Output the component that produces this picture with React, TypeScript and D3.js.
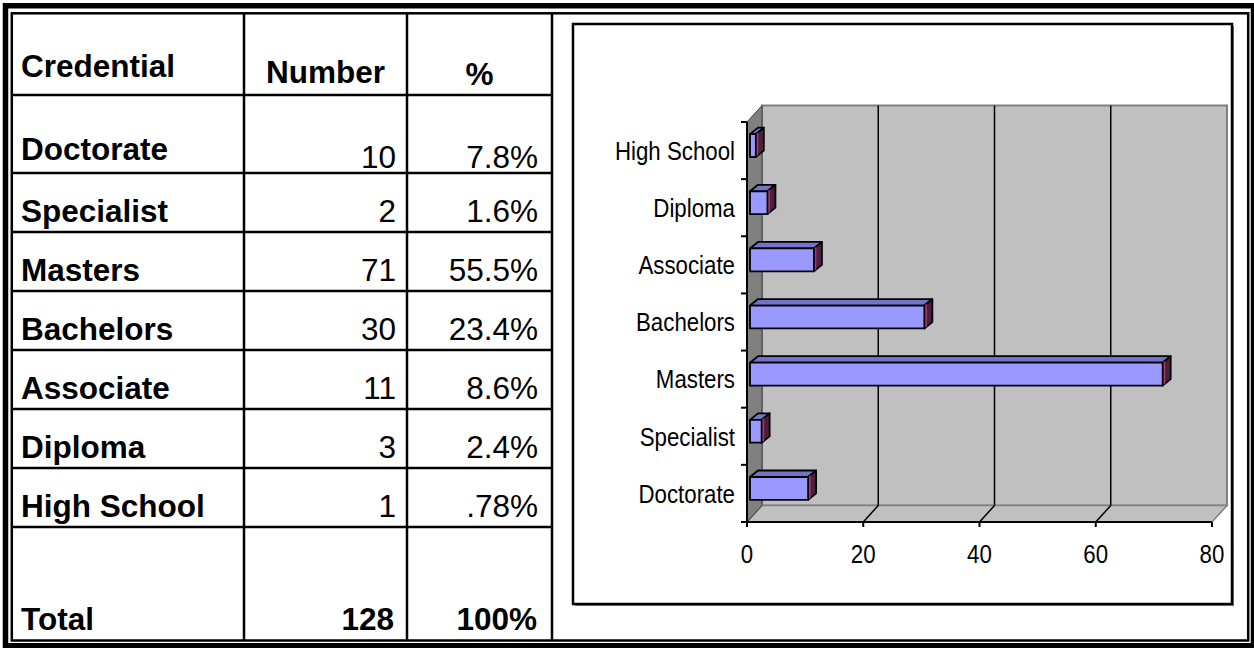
import React from 'react';
import * as d3 from 'd3';

const categories = ['Doctorate', 'Specialist', 'Masters', 'Bachelors', 'Associate', 'Diploma', 'High School'];
const counts = [10, 2, 71, 30, 11, 3, 1];
const percents = ['7.8%', '1.6%', '55.5%', '23.4%', '8.6%', '2.4%', '.78%'];
const headers = ['Credential', 'Number', '%'];
const totalLabel = 'Total';
const totalCount = '128';
const totalPct = '100%';
const xTicks = [0, 20, 40, 60, 80];

export default function App() {
  const W = 1254, H = 648;
  const tableFont = "'Liberation Sans', Arial, Helvetica, sans-serif";
  const chartFont = "'Liberation Sans Narrow', 'Arial Narrow', 'Liberation Sans', sans-serif";
  const fs = 31.5;
  const narrow = 0.84;

  // table layout
  const colX = [12, 244, 407, 552];
  const rowLines = [95, 173, 232, 291, 350, 409, 468, 527];
  const labelBase = [160, 222, 281, 340, 399, 458, 517];
  const numBase = [168, 222, 281, 340, 399, 458, 517];

  // chart geometry
  const front = d3.scaleLinear().domain([0, 80]).range([747, 1212]);
  const dep = { dx: 15, dy: -16.5 };
  const yTop = 122, yBot = 522;
  const band = d3.scaleBand<string>()
    .domain([...categories].reverse())
    .range([yTop, yBot])
    .paddingInner(0.6)
    .paddingOuter(0.3);
  const step = band.step();
  const barOff = { dx: 3, dy: -5 };
  const bd = { dx: 8, dy: -6.5 };

  const x0 = front(0), x80 = front(80);
  const leftWall = [[x0, yTop], [x0 + dep.dx, yTop + dep.dy], [x0 + dep.dx, yBot + dep.dy], [x0, yBot]];
  const floor = [[x0, yBot], [x0 + dep.dx, yBot + dep.dy], [x80 + dep.dx, yBot + dep.dy], [x80, yBot]];
  const pts = (p: number[][]) => p.map(q => q.join(',')).join(' ');

  const tickYs = d3.range(categories.length + 1).map(i => yTop + i * step);

  return (
    <svg width={W} height={H} style={{ position: 'absolute', left: 0, top: 0, background: '#fff' }}>
      {/* outer frames */}
      <rect x={5.5} y={5.75} width={1248} height={640} fill="none" stroke="#000" strokeWidth={5.5} />
      <rect x={11.8} y={13.3} width={1236.4} height={627.2} fill="none" stroke="#000" strokeWidth={2.5} />

      {/* table grid */}
      {colX.slice(1).map((x, i) => (
        <line key={'c' + i} x1={x} x2={x} y1={13.3} y2={640.5} stroke="#000" strokeWidth={2.5} />
      ))}
      {rowLines.map((y, i) => (
        <line key={'r' + i} x1={11.8} x2={552} y1={y} y2={y} stroke="#000" strokeWidth={2.5} />
      ))}

      {/* header */}
      <g fontFamily={tableFont} fontWeight="bold" fontSize={fs} fill="#000">
        <text x={21} y={77}>{headers[0]}</text>
        <text x={(colX[1] + colX[2]) / 2} y={83} textAnchor="middle">{headers[1]}</text>
        <text x={(colX[2] + colX[3]) / 2} y={85} textAnchor="middle">{headers[2]}</text>
      </g>

      {/* rows */}
      {categories.map((c, i) => (
        <g key={c} fontFamily={tableFont} fontSize={fs} fill="#000">
          <text x={21} y={labelBase[i]} fontWeight="bold">{c}</text>
          <text x={396} y={numBase[i]} textAnchor="end">{counts[i]}</text>
          <text x={538} y={numBase[i]} textAnchor="end">{percents[i]}</text>
        </g>
      ))}
      <g fontFamily={tableFont} fontSize={fs} fontWeight="bold" fill="#000">
        <text x={21} y={630}>{totalLabel}</text>
        <text x={394} y={630} textAnchor="end">{totalCount}</text>
        <text x={537} y={630} textAnchor="end">{totalPct}</text>
      </g>

      {/* chart box */}
      <rect x={575} y={26} width={659} height={580} fill="#808080" />
      <rect x={573} y={24} width={659} height={580} fill="#fff" stroke="#000" strokeWidth={2.5} />

      {/* back wall */}
      <rect x={x0 + dep.dx} y={yTop + dep.dy} width={x80 - x0} height={yBot - yTop}
        fill="#c0c0c0" stroke="#808080" strokeWidth={2} />
      {/* floor */}
      <polygon points={pts(floor)} fill="#c0c0c0" stroke="#808080" strokeWidth={1.5} />
      {/* left wall */}
      <polygon points={pts(leftWall)} fill="#808080" stroke="#404040" strokeWidth={1} />

      {/* gridlines */}
      {xTicks.slice(1, -1).map(v => (
        <g key={'g' + v}>
          <line x1={front(v) + dep.dx} x2={front(v) + dep.dx} y1={yTop + dep.dy} y2={yBot + dep.dy} stroke="#000" strokeWidth={1.5} />
          <line x1={front(v) + dep.dx} x2={front(v)} y1={yBot + dep.dy} y2={yBot} stroke="#000" strokeWidth={1.5} />
        </g>
      ))}

      {/* axes */}
      <line x1={x0} x2={x0} y1={yTop} y2={yBot} stroke="#000" strokeWidth={2} />
      {tickYs.map((y, i) => (
        <line key={'yt' + i} x1={x0 - 6} x2={x0} y1={y} y2={y} stroke="#000" strokeWidth={2} />
      ))}
      <line x1={x0 - 6} x2={x80} y1={yBot} y2={yBot} stroke="#000" strokeWidth={2} />
      {xTicks.map(v => (
        <line key={'xt' + v} x1={front(v)} x2={front(v)} y1={yBot} y2={yBot + 5} stroke="#000" strokeWidth={2} />
      ))}

      {/* bars */}
      {categories.map((c, i) => {
        const yt = (band(c) as number) + barOff.dy;
        const yb = yt + band.bandwidth();
        const xa = front(0) + barOff.dx;
        const xb = front(counts[i]) + barOff.dx;
        const top = [[xa, yt], [xa + bd.dx, yt + bd.dy], [xb + bd.dx, yt + bd.dy], [xb, yt]];
        const side = [[xb, yt], [xb + bd.dx, yt + bd.dy], [xb + bd.dx, yb + bd.dy], [xb, yb]];
        const stripe = [[xb, yt], [xb + 2.5, yt - 2], [xb + 2.5, yb - 2], [xb, yb]];
        return (
          <g key={'b' + c} stroke="#000" strokeWidth={1.8} strokeLinejoin="round">
            <polygon points={pts(top)} fill="#7373c8" />
            <polygon points={pts(side)} fill="#4f1d3f" />
            <polygon points={pts(stripe)} fill="#a03a70" stroke="none" />
            <rect x={xa} y={yt} width={xb - xa} height={yb - yt} fill="#9999ff" />
          </g>
        );
      })}

      {/* category labels */}
      <g fontFamily={chartFont} fontSize={26.5} fill="#000">
        {categories.map(c => (
          <text key={'l' + c} transform={`translate(735,${(band(c) as number) + band.bandwidth() / 2}) scale(${narrow},1)`}
            dy="0.35em" textAnchor="end">{c}</text>
        ))}
        {xTicks.map(v => (
          <text key={'xl' + v} transform={`translate(${front(v)},563) scale(${narrow},1)`} textAnchor="middle">{v}</text>
        ))}
      </g>
    </svg>
  );
}
